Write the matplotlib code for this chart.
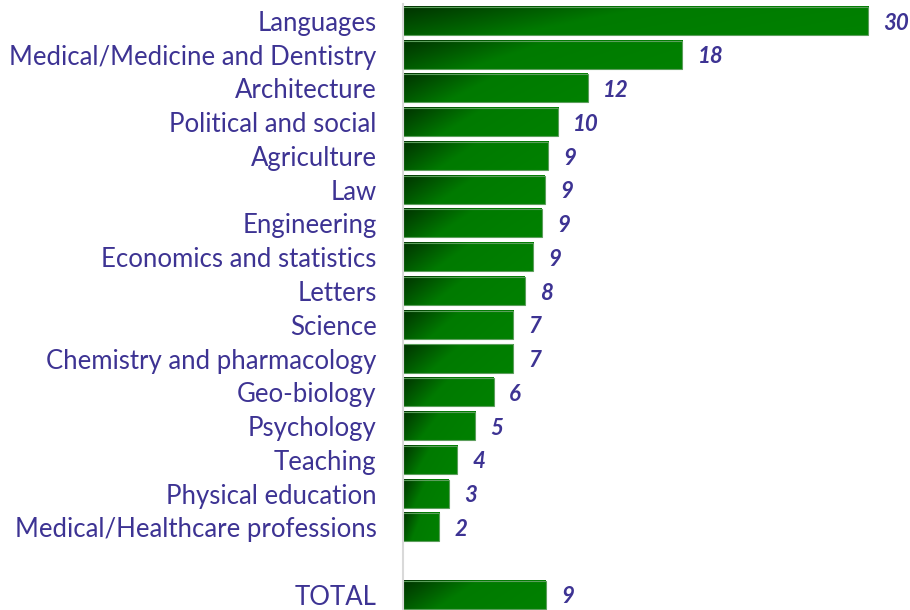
import numpy as np
import matplotlib
matplotlib.use("Agg")
import matplotlib.pyplot as plt
from matplotlib.colors import LinearSegmentedColormap

categories = [
    "Languages", "Medical/Medicine and Dentistry", "Architecture",
    "Political and social", "Agriculture", "Law", "Engineering",
    "Economics and statistics", "Letters", "Science",
    "Chemistry and pharmacology", "Geo-biology", "Psychology", "Teaching",
    "Physical education", "Medical/Healthcare professions", "TOTAL",
]
# bar lengths
values = [30.0, 18.0, 11.9, 10.0, 9.35, 9.15, 8.95, 8.4, 7.85, 7.1,
          7.1, 5.85, 4.65, 3.5, 2.95, 2.35, 9.2]
# value labels as printed
labels = ["30", "18", "12", "10", "9", "9", "9", "9", "8", "7",
          "7", "6", "5", "4", "3", "2", "9"]

positions = list(range(16)) + [17]

text_color = "#3d3393"
green_cmap = LinearSegmentedColormap.from_list(
    "grn", [(0.0, "#003300"), (0.45, "#007a00"), (1.0, "#008000")])

plt.rcParams["font.family"] = ["Lato", "DejaVu Sans"]

fig = plt.figure(figsize=(9.1, 6.1), dpi=100)
left = 403 / 910
right = 900 / 910
ax = fig.add_axes([left, 0, right - left, 1])

px_per_unit = 465.3 / 30
ax.set_xlim(0, (900 - 403) / px_per_unit)
ax.set_ylim(17.45, -0.62)

bar_h = 0.83
# diagonal gradient: dark bottom-left, bright green to the right
u = np.linspace(0, 1, 200)
v = np.linspace(0, 1, 20)
U, V = np.meshgrid(u, v)
grad = np.clip(0.85 * U + 0.25 * V, 0, 1)

for pos, val, lab in zip(positions, values, labels):
    y0 = pos - bar_h / 2
    y1 = pos + bar_h / 2
    ax.imshow(grad, cmap=green_cmap, vmin=0, vmax=1, aspect="auto",
              extent=(0, val, y1, y0), origin="upper", interpolation="bilinear",
              zorder=2)
    ax.add_patch(plt.Rectangle((0, y0), val, bar_h, fill=False,
                               edgecolor="#5c9e5c", linewidth=0.8, zorder=3))
    ax.annotate(lab, (val, pos), xytext=(11, -1.5), textcoords="offset points",
                ha="left", va="center", fontsize=16, fontweight="bold",
                fontstyle="italic", color=text_color, annotation_clip=False)

ax.set_yticks(positions)
ax.set_yticklabels(categories, fontsize=18.5, color=text_color)
ax.tick_params(axis="y", length=0, pad=19)
ax.set_xticks([])
for side in ["top", "right", "bottom"]:
    ax.spines[side].set_visible(False)
ax.spines["left"].set_color("#d9d9d9")
ax.spines["left"].set_linewidth(1.5)
ax.spines["left"].set_bounds(-0.5, 17.45)
ax.spines["left"].set_zorder(4)
ax.set_facecolor("none")

fig.savefig("out.png", dpi=100)
